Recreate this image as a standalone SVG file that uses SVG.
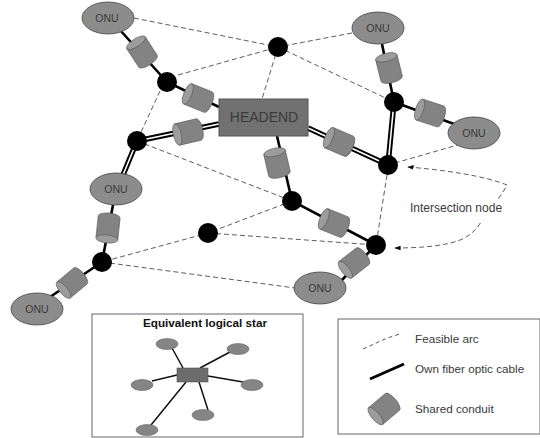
<svg xmlns="http://www.w3.org/2000/svg" width="540" height="438" viewBox="0 0 540 438">
<style>
text{font-family:"Liberation Sans",Arial,sans-serif;fill:#3a3a3a}
.t{text-anchor:middle;font-size:10.500px}
.l{font-size:11.700px}
.own{stroke:#000;stroke-width:2.600;fill:none}
.d1{stroke:#000;stroke-width:5.500;fill:none}
.d2{stroke:#fff;stroke-width:1.600;fill:none}
.arc{stroke:#333;stroke-width:.8;stroke-dasharray:5 3;fill:none}
.thin{stroke:#111;stroke-width:1.500;fill:none}
.onu{fill:#8c8c8c;stroke:#333;stroke-width:.7}
.jn{fill:#000}
.box{fill:#fff;stroke:#666;stroke-width:1}
.small{fill:#858585;stroke:#666;stroke-width:.6}
</style>
<defs>
<marker id="arr" viewBox="0 0 8 6" refX="1" refY="3" markerWidth="8" markerHeight="6" orient="auto"><path d="M8 0L0 3L8 6z" fill="#111"/></marker>
<g id="cyl"><path d="M-11-11H11A4 11 0 0 1 11 11H-11z" fill="#838383" stroke="#555" stroke-width=".6"/><ellipse cx="-11" cy="0" rx="4" ry="11" fill="#9c9c9c" stroke="#555" stroke-width=".6"/></g>
</defs>
<rect width="540" height="438" fill="#fff"/>
<g id="connectors">
<path class="arc" d="M134 18L278 47M178 75L278 47M352 33L278 47M278 47L394 102M278 47L262 99M160 91L137 141M137 141L292 201M387 175L376 245M461 144L388 165M292 201L208 233L102 262M208 233L376 245M102 262L295 288"/>
<path class="own" d="M120 30L167 82L219 107M394 102L382 44M394 102L454 124M277 136L292 201L376 245M376 245L340 282M102 262L113 205M102 262L50 297"/>
<path class="d1" d="M137 141L219 124M137 141L123 175M308 128L388 165M394 102L388 165"/>
<path class="d2" d="M137 141L219 124M137 141L123 175M308 128L388 165M394 102L388 165"/>
<path class="arc" marker-start="url(#arr)" d="M408 167C445 170 485 176 507 185C504 191 500 196 497 201"/>
<path class="arc" marker-start="url(#arr)" d="M395 248C420 248 445 246 460 240C470 236 476 230 481 222"/>
</g>
<g id="cond1"><use href="#cyl" transform="translate(142 52) rotate(57)"/></g>
<g id="cond2"><use href="#cyl" transform="translate(198 98) rotate(22)"/></g>
<g id="cond3"><use href="#cyl" transform="translate(188 132) rotate(-13)"/></g>
<g id="cond4"><use href="#cyl" transform="translate(277 163) rotate(77)"/></g>
<g id="cond5"><use href="#cyl" transform="translate(339 142) rotate(23)"/></g>
<g id="cond6"><use href="#cyl" transform="translate(389 68) rotate(76)"/></g>
<g id="cond7"><use href="#cyl" transform="translate(430 113) rotate(18)"/></g>
<g id="cond8"><use href="#cyl" transform="translate(334 223) rotate(22)"/></g>
<g id="cond9"><use href="#cyl" transform="translate(354 263) rotate(-38) scale(1 .95)"/></g>
<g id="cond10"><use href="#cyl" transform="translate(108 228) rotate(-84)"/></g>
<g id="cond11"><use href="#cyl" transform="translate(72 283) rotate(-40) scale(1 .95)"/></g>
<g id="headend"><rect x="219" y="99" width="89" height="37" fill="#717171" stroke="#555"/><text x="264" y="122" text-anchor="middle" font-size="14">HEADEND</text></g>
<g id="onu1"><ellipse class="onu" cx="108" cy="18" rx="26" ry="16"/><text class="t" x="107" y="22">ONU</text></g>
<g id="onu2"><ellipse class="onu" cx="378" cy="28" rx="26" ry="16"/><text class="t" x="378" y="32">ONU</text></g>
<g id="onu3"><ellipse class="onu" cx="474" cy="133" rx="26" ry="16"/><text class="t" x="474" y="137">ONU</text></g>
<g id="onu4"><ellipse class="onu" cx="116" cy="189" rx="26" ry="16"/><text class="t" x="116" y="193">ONU</text></g>
<g id="onu5"><ellipse class="onu" cx="37" cy="309" rx="26" ry="16"/><text class="t" x="37" y="313">ONU</text></g>
<g id="onu6"><ellipse class="onu" cx="320" cy="288" rx="26" ry="16"/><text class="t" x="320" y="292">ONU</text></g>
<g id="n1"><circle class="jn" cx="167" cy="82" r="10"/></g>
<g id="n2"><circle class="jn" cx="137" cy="141" r="10"/></g>
<g id="n3"><circle class="jn" cx="278" cy="47" r="10"/></g>
<g id="n4"><circle class="jn" cx="394" cy="102" r="10"/></g>
<g id="n5"><circle class="jn" cx="388" cy="165" r="10"/></g>
<g id="n6"><circle class="jn" cx="292" cy="201" r="10"/></g>
<g id="n7"><circle class="jn" cx="376" cy="245" r="10"/></g>
<g id="n8"><circle class="jn" cx="208" cy="233" r="10"/></g>
<g id="n9"><circle class="jn" cx="102" cy="262" r="10"/></g>
<text x="410" y="212" font-size="12">Intersection node</text>
<g id="star">
<rect class="box" x="92" y="314" width="211" height="123"/>
<text x="205" y="327" text-anchor="middle" font-size="11.700" font-weight="bold" style="fill:#111">Equivalent logical star</text>
<path class="thin" d="M172 348L183 368M200 368L230 352M208 376L243 382M199 382L208 410M186 382L151 425M177 375L152 381"/>
<rect x="177" y="368" width="31" height="14" fill="#6c6c6c" stroke="#555" stroke-width=".6"/>
<ellipse class="small" cx="167" cy="344" rx="11" ry="5.500"/>
<ellipse class="small" cx="238" cy="349" rx="11" ry="5.500"/>
<ellipse class="small" cx="252" cy="385" rx="11" ry="5.500"/>
<ellipse class="small" cx="203" cy="415" rx="11" ry="5.500"/>
<ellipse class="small" cx="147" cy="430" rx="11" ry="5.500"/>
<ellipse class="small" cx="142" cy="385" rx="11" ry="5.500"/>
</g>
<g id="legend">
<rect class="box" x="338" y="319" width="202" height="115"/>
<path d="M363 349C375 344 385 338 400 334" class="arc" style="stroke-dasharray:4 3"/>
<text class="l" x="415" y="343">Feasible arc</text>
<path d="M370 379L404 364" class="own" style="stroke-width:3"/>
<text class="l" x="415" y="373">Own fiber optic cable</text>
<use href="#cyl" transform="translate(384 409) rotate(-40)"/>
<text class="l" x="415" y="413">Shared conduit</text>
</g>
</svg>
